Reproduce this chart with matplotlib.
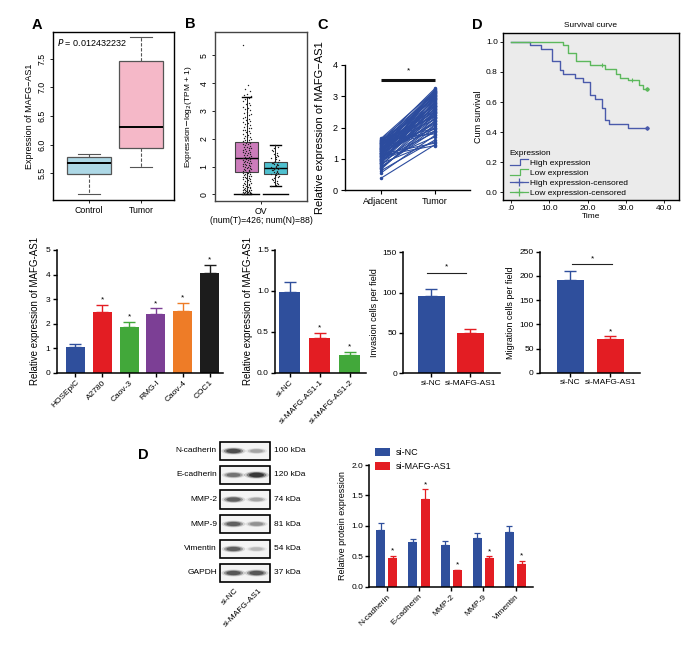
import matplotlib
matplotlib.use('Agg')
import matplotlib.pyplot as plt
from matplotlib.patches import Rectangle, Ellipse
from matplotlib.lines import Line2D
from matplotlib.legend_handler import HandlerBase

plt.rcParams['font.family'] = ['Liberation Sans', 'DejaVu Sans']
plt.rcParams['axes.linewidth'] = 1.0

# ---------------- data ----------------
# Panel A (boxplot stats)
a_labels = ['Control', 'Tumor']
a_q1 = [5.48, 5.94]
a_med = [5.67, 6.31]
a_q3 = [5.78, 7.46]
a_lo = [5.13, 5.60]
a_hi = [5.83, 7.88]
a_pval = 'P = 0.012432232'

# Panel B (GEPIA box + points)
b_q1 = [0.81, 0.74]
b_med = [1.29, 0.96]
b_q3 = [1.88, 1.17]
b_lo = [0.0, 0.30]
b_hi = [3.51, 1.76]
b_tumor_pts = [0.00, 0.01, 0.02, 0.03, 0.04, 0.05, 0.06, 0.07, 0.08, 0.09, 0.10, 0.11, 0.12, 0.14,
               0.15, 0.16, 0.17, 0.19, 0.20, 0.22, 0.23, 0.25, 0.26, 0.28, 0.30, 0.32, 0.34, 0.36,
               0.38, 0.40, 0.42, 0.44, 0.47, 0.49, 0.52, 0.54, 0.56, 0.58, 0.60, 0.62, 0.63, 0.65,
               0.67, 0.69, 0.71, 0.73, 0.74, 0.76, 0.78, 0.80, 0.81, 0.83, 0.84, 0.86, 0.88, 0.90,
               0.92, 0.94, 0.95, 0.97, 0.99, 1.01, 1.03, 1.05, 1.06, 1.08, 1.10, 1.12, 1.13, 1.15,
               1.17, 1.19, 1.21, 1.23, 1.25, 1.27, 1.28, 1.30, 1.32, 1.34, 1.36, 1.38, 1.41, 1.43,
               1.45, 1.47, 1.49, 1.51, 1.53, 1.56, 1.58, 1.60, 1.62, 1.65, 1.67, 1.70, 1.72, 1.75,
               1.77, 1.80, 1.82, 1.84, 1.86, 1.89, 1.91, 1.94, 1.97, 2.00, 2.03, 2.06, 2.08, 2.11,
               2.14, 2.17, 2.20, 2.24, 2.27, 2.30, 2.33, 2.37, 2.40, 2.44, 2.47, 2.50, 2.53, 2.57,
               2.61, 2.65, 2.69, 2.72, 2.76, 2.80, 2.84, 2.88, 2.93, 2.97, 3.02, 3.06, 3.10, 3.15,
               3.20, 3.25, 3.30, 3.36, 3.42, 3.47, 3.52, 3.58, 3.62, 3.70, 3.78, 3.92, 5.37]
b_normal_pts = [0.30, 0.34, 0.38, 0.42, 0.45, 0.49, 0.52, 0.55, 0.58, 0.61, 0.64, 0.67, 0.70, 0.72,
                0.75, 0.78, 0.80, 0.82, 0.84, 0.86, 0.88, 0.90, 0.92, 0.94, 0.96, 0.98, 1.00, 1.02,
                1.04, 1.06, 1.08, 1.10, 1.12, 1.14, 1.16, 1.18, 1.20, 1.23, 1.26, 1.30, 1.33, 1.37,
                1.40, 1.45, 1.50, 1.55, 1.60, 1.65, 1.70, 1.76]
b_tick = 'OV\n(num(T)=426; num(N)=88)'

# Panel C (paired samples)
c_adjacent = [0.38, 0.55, 0.62, 0.70, 0.75, 0.80, 0.85, 0.88, 0.92, 0.95, 0.98, 1.00, 1.02, 1.05,
              1.08, 1.10, 1.12, 1.15, 1.18, 1.20, 1.22, 1.25, 1.28, 1.30, 1.32, 1.35, 1.38, 1.40,
              1.42, 1.45, 1.48, 1.50, 1.52, 1.55, 1.58, 1.60, 1.62, 1.65, 0.72, 0.90, 1.15, 1.27,
              1.36, 1.44, 1.05, 0.83, 1.58, 1.20, 0.66, 0.78, 0.94, 1.00, 1.09, 1.17, 1.24, 1.31,
              1.39, 1.47, 1.53, 1.61, 0.87, 1.13, 1.34, 1.50, 0.97, 1.26]
c_tumor = [1.45, 1.75, 1.60, 2.10, 1.90, 2.30, 1.55, 2.50, 2.05, 2.70, 1.85, 2.40, 2.95, 2.20,
           2.60, 1.42, 2.80, 2.35, 3.05, 2.15, 2.55, 2.90, 2.45, 3.15, 2.65, 1.95, 3.00, 2.75,
           3.20, 2.25, 2.85, 3.10, 2.50, 3.25, 2.95, 2.70, 3.05, 3.18, 2.00, 2.62, 1.50, 2.78,
           3.12, 2.40, 2.30, 2.88, 1.80, 3.22, 2.22, 2.45, 1.70, 2.82, 3.08, 2.12, 2.68, 1.88,
           3.02, 2.58, 2.92, 2.35, 2.98, 3.14, 2.72, 1.98, 2.52, 3.16]
c_groups = ['Adjacent', 'Tumor']

# Panel D (Kaplan-Meier)
high_t = [0, 4.9, 7.8, 10.8, 12.7, 13.7, 16.7, 18.7, 20.7, 22.0, 23.7, 24.6, 25.5, 30.6, 35.4]
high_s = [1.0, 0.978, 0.949, 0.869, 0.812, 0.785, 0.757, 0.730, 0.646, 0.617, 0.562, 0.478, 0.451, 0.425, 0.425]
low_t = [0, 13.7, 14.8, 16.9, 20.7, 24.6, 27.4, 28.5, 30.5, 33.3, 34.5, 35.4]
low_s = [1.0, 0.978, 0.927, 0.869, 0.847, 0.819, 0.788, 0.761, 0.745, 0.712, 0.684, 0.684]
high_cens_t = [35.4]
high_cens_s = [0.425]
low_cens_t = [23.7, 31.5, 35.4]
low_cens_s = [0.847, 0.745, 0.684]

# Cell lines
cell_lines = ['HOSEpiC', 'A2780', 'Caov-3', 'RMG-I', 'Caov-4', 'COC1']
cell_vals = [1.05, 2.49, 1.85, 2.38, 2.53, 4.06]
cell_errs = [0.10, 0.28, 0.23, 0.24, 0.30, 0.34]

# siRNA knockdown
si_groups = ['si-NC', 'si-MAFG-AS1-1', 'si-MAFG-AS1-2']
si_vals = [0.99, 0.43, 0.22]
si_errs = [0.12, 0.06, 0.03]

# Invasion / migration
two_groups = ['si-NC', 'si-MAFG-AS1']
inv_vals = [95.9, 50.4]
inv_errs = [8.1, 4.1]
mig_vals = [190.8, 69.6]
mig_errs = [19.9, 6.2]

# Western blot
blot_proteins = ['N-cadherin', 'E-cadherin', 'MMP-2', 'MMP-9', 'Vimentin', 'GAPDH']
blot_kda = ['100 kDa', '120 kDa', '74 kDa', '81 kDa', '54 kDa', '37 kDa']
blot_nc = [0.90, 0.70, 0.80, 0.80, 0.80, 0.85]
blot_si = [0.45, 1.00, 0.45, 0.55, 0.35, 0.85]

# Protein quantification
prot_names = ['N-cadherin', 'E-cadherin', 'MMP-2', 'MMP-9', 'Vimentin']
prot_nc = [0.94, 0.73, 0.68, 0.80, 0.90]
prot_nc_err = [0.10, 0.06, 0.07, 0.09, 0.09]
prot_si = [0.47, 1.44, 0.27, 0.47, 0.38]
prot_si_err = [0.04, 0.16, 0.01, 0.03, 0.04]

# ---------------- layout ----------------
W, H = 699, 645
fig = plt.figure(figsize=(W / 100, H / 100), dpi=100)

def ax_px(l, t, r, b):
    return fig.add_axes([l / W, 1 - b / H, (r - l) / W, (b - t) / H])

bg = fig.add_axes([0, 0, 1, 1], zorder=-5)
bg.set_xlim(0, W)
bg.set_ylim(H, 0)
bg.axis('off')

for lab, x, y in [('A', 37, 25), ('B', 190, 24), ('C', 323, 25), ('D', 477, 25), ('D', 143, 455)]:
    bg.text(x, y, lab, fontsize=10.5, fontweight='bold', ha='center', va='center')

BLUE = '#2f4f9c'
RED = '#e31d23'
TS = 6

# ---- Panel A ----
axA = ax_px(53, 32, 174, 200)
statsA = [dict(med=a_med[i], q1=a_q1[i], q3=a_q3[i], whislo=a_lo[i], whishi=a_hi[i], label=a_labels[i])
          for i in range(2)]
bpA = axA.bxp(statsA, positions=[1, 2], widths=0.85, patch_artist=True, showfliers=False,
              boxprops=dict(edgecolor='#555555', lw=0.9),
              medianprops=dict(color='black', lw=1.4),
              whiskerprops=dict(color='#555555', lw=0.8, linestyle=(0, (3, 1.5))),
              capprops=dict(color='#555555', lw=0.8))
for patch, col in zip(bpA['boxes'], ['#add8e6', '#f5b8c8']):
    patch.set_facecolor(col)
axA.set_xlim(0.31, 2.63)
axA.set_ylim(5.03, 7.97)
axA.set_yticks([5.5, 6.0, 6.5, 7.0, 7.5])
axA.set_yticklabels(['5.5', '6.0', '6.5', '7.0', '7.5'], rotation=90, va='center')
axA.tick_params(labelsize=6.3, length=2.5, width=0.6, pad=2)
axA.set_ylabel('Expression of MAFG\u2212AS1', fontsize=6.5, labelpad=3)
axA.text(0.035, 0.94, r'$P$' + a_pval[1:], transform=axA.transAxes, fontsize=6.5, va='center')

# ---- Panel B ----
axB = ax_px(215, 32, 307, 201)
posB = [0.346, 0.654]
statsB = [dict(med=b_med[i], q1=b_q1[i], q3=b_q3[i], whislo=b_lo[i], whishi=b_hi[i]) for i in range(2)]
bpB = axB.bxp(statsB, positions=posB, widths=0.25, patch_artist=True, showfliers=False,
              boxprops=dict(edgecolor='#444444', lw=0.8),
              medianprops=dict(color='black', lw=1.0),
              whiskerprops=dict(color='#222222', lw=0.7),
              capprops=dict(color='black', lw=1.0), capwidths=[0.1, 0.12], zorder=2)
for patch, col in zip(bpB['boxes'], ['#cc7cbb', '#4fc0cf']):
    patch.set_facecolor(col)
for p in posB:
    axB.plot([p - 0.135, p + 0.135], [0, 0], color='black', lw=1.0, zorder=3)
jit = [-0.045, -0.015, 0.02, 0.045, -0.03, 0.005, 0.03, -0.02, 0.012, -0.04, 0.038, -0.008, 0.025]
axB.scatter([posB[0] + jit[i % len(jit)] for i in range(len(b_tumor_pts))], b_tumor_pts,
            s=1.0, color='#222222', zorder=4, linewidths=0)
axB.scatter([posB[1] + jit[(i * 5) % len(jit)] * 0.9 for i in range(len(b_normal_pts))], b_normal_pts,
            s=1.0, color='#222222', zorder=4, linewidths=0)
axB.set_xlim(0, 1)
axB.set_ylim(-0.24, 5.84)
axB.set_yticks(range(6))
axB.set_yticklabels([str(i) for i in range(6)], rotation=90, va='center')
axB.set_xticks([0.5])
axB.set_xticklabels([b_tick], fontsize=6, linespacing=0.95)
axB.tick_params(labelsize=6.3, length=2.5, width=0.6, pad=2)
axB.set_ylabel(r'Expression$-$log$_2$(TPM + 1)', fontsize=6, labelpad=4)
for s in axB.spines.values():
    s.set_color('#444444')

# ---- Panel C ----
axC = ax_px(345, 65, 470, 190)
for a, t in zip(c_adjacent, c_tumor):
    axC.plot([0, 1], [a, t], color='#2c4c9e', lw=0.8, marker='o', ms=1.5, zorder=2)
axC.plot([0, 1], [3.52, 3.52], color='#111111', lw=2.2, solid_capstyle='butt')
axC.text(0.5, 3.8, '*', ha='center', va='center', fontsize=6)
axC.set_xlim(-0.67, 1.65)
axC.set_ylim(0, 4)
axC.set_xticks([0, 1])
axC.set_xticklabels(c_groups)
axC.set_yticks(range(5))
axC.spines['top'].set_visible(False)
axC.spines['right'].set_visible(False)
axC.tick_params(labelsize=6.5, length=3, width=0.8, pad=2)
axC.set_ylabel('Relative expression of MAFG\u2212AS1', fontsize=8, labelpad=6)

# ---- Panel D (survival) ----
axD = ax_px(502.7, 32.7, 679, 200)
axD.set_facecolor('#ebebeb')
HC = '#4a5aab'
LC = '#5cb85c'
axD.step(high_t, high_s, where='post', color=HC, lw=1.0)
axD.step(low_t, low_s, where='post', color=LC, lw=1.0)
axD.plot(high_cens_t, high_cens_s, '+', color=HC, ms=3.5, mew=0.8)
axD.plot(low_cens_t, low_cens_s, '+', color=LC, ms=3.5, mew=0.8)
axD.plot(high_cens_t[-1:], high_cens_s[-1:], 'o', color=HC, ms=2)
axD.plot(low_cens_t[-1:], low_cens_s[-1:], 'o', color=LC, ms=2)
axD.set_xlim(-2.1, 43.8)
axD.set_ylim(-0.05, 1.06)
axD.set_xticks([0, 10, 20, 30, 40])
axD.set_xticklabels(['.0', '10.0', '20.0', '30.0', '40.0'])
axD.set_yticks([0, 0.2, 0.4, 0.6, 0.8, 1.0])
axD.set_yticklabels(['0.0', '0.2', '0.4', '0.6', '0.8', '1.0'])
axD.tick_params(labelsize=6, length=2, width=0.6, pad=1.5)
axD.set_xlabel('Time', fontsize=6, labelpad=1)
axD.set_ylabel('Cum survival', fontsize=6.5, labelpad=2)
axD.set_title('Survival curve', fontsize=6, pad=4)


class StepHandler(HandlerBase):
    def create_artists(self, legend, orig_handle, xd, yd, width, height, fontsize, trans):
        y0 = -yd + height * 0.05
        y1 = -yd + height * 0.95
        x0 = -xd
        xm = x0 + width * 0.55
        l = Line2D([x0, xm, xm, x0 + width], [y0, y0, y1, y1], color=orig_handle.get_color(),
                   lw=orig_handle.get_linewidth(), transform=trans)
        return [l]


h1 = Line2D([], [], color=HC, lw=0.9)
h2 = Line2D([], [], color=LC, lw=0.9)
h3 = Line2D([], [], color=HC, lw=0.9, marker='+', ms=6, mew=0.9)
h4 = Line2D([], [], color=LC, lw=0.9, marker='+', ms=6, mew=0.9)
legD = axD.legend([h1, h2, h3, h4], ['High expression', 'Low expression', 'High expression-censored',
                                       'Low expression-censored'],
                  handler_map={h1: StepHandler(), h2: StepHandler()}, title='Expression',
                  fontsize=6, title_fontsize=6, loc='lower left', bbox_to_anchor=(0.02, 0.0),
                  frameon=False, handlelength=2.2, handletextpad=0.2, labelspacing=0.25,
                  borderpad=0.2, borderaxespad=0.2)
legD._legend_box.align = 'left'


# ---- bar chart helper ----
def prism(ax, xs, vals, errs, colors, width, ylim, yticks, yticklabels=None, stars=None, star_off=0.0):
    ax.bar(xs, vals, width=width, color=colors, edgecolor='none', zorder=2)
    for x, v, e, c in zip(xs, vals, errs, colors):
        ax.errorbar([x], [v], yerr=[[0], [e]], fmt='none', ecolor=c, elinewidth=1.0,
                    capsize=4, capthick=1.0, zorder=3)
    if stars:
        for x, v, e, s in zip(xs, vals, errs, stars):
            if s:
                ax.text(x, v + e + star_off, '*', ha='center', va='center', fontsize=6)
    ax.set_ylim(*ylim)
    ax.set_yticks(yticks)
    if yticklabels:
        ax.set_yticklabels(yticklabels)
    ax.spines['top'].set_visible(False)
    ax.spines['right'].set_visible(False)
    ax.spines['left'].set_linewidth(1.1)
    ax.spines['bottom'].set_linewidth(1.1)
    ax.tick_params(labelsize=TS, length=3, width=1.0, pad=1.5)


# ---- Cell lines ----
axE = ax_px(56.7, 250, 223, 372.7)
cell_cols = ['#2f4f9c', '#e31d23', '#42a83a', '#7c3f95', '#ee7c27', '#1c1c1c']
xsE = list(range(len(cell_lines)))
prism(axE, xsE, cell_vals, cell_errs, cell_cols, 0.71, (0, 5), range(6),
      stars=[0, 1, 1, 1, 1, 1], star_off=0.2)
axE.set_xlim(-0.70, 5.5)
axE.set_xticks(xsE)
axE.set_xticklabels(cell_lines, rotation=45, ha='right', rotation_mode='anchor')
axE.set_ylabel('Relative expression of MAFG-AS1', fontsize=7, labelpad=4)

# ---- siRNA ----
axF = ax_px(275, 250, 365.7, 372.7)
xsF = [0, 1, 2]
prism(axF, xsF, si_vals, si_errs, [BLUE, RED, '#42a83a'], 0.69, (0, 1.5), [0, 0.5, 1.0, 1.5],
      ['0.0', '0.5', '1.0', '1.5'], stars=[0, 1, 1], star_off=0.06)
axF.set_xlim(-0.49, 2.53)
axF.set_xticks(xsF)
axF.set_xticklabels(si_groups, rotation=45, ha='right', rotation_mode='anchor')
axF.set_ylabel('Relative expression of MAFG-AS1', fontsize=7, labelpad=3)

# ---- Invasion ----
axG = ax_px(403.3, 252.3, 500, 373.3)
prism(axG, [0, 1], inv_vals, inv_errs, [BLUE, RED], 0.71, (0, 150), [0, 50, 100, 150])
axG.plot([-0.12, 0.9], [124, 124], color='#222222', lw=0.8)
axG.text(0.39, 132, '*', ha='center', va='center', fontsize=6)
axG.set_xlim(-0.72, 1.76)
axG.set_xticks([0, 1])
axG.set_xticklabels(two_groups)
axG.set_ylabel('Invasion cells per field', fontsize=6.5, labelpad=3)

# ---- Migration ----
axH = ax_px(540, 251.7, 640, 372.7)
prism(axH, [0, 1], mig_vals, mig_errs, [BLUE, RED], 0.69, (0, 250), [0, 50, 100, 150, 200, 250],
      stars=[0, 1], star_off=9)
axH.plot([0.03, 1.05], [223.8, 223.8], color='#222222', lw=0.8)
axH.text(0.55, 235, '*', ha='center', va='center', fontsize=6)
axH.set_xlim(-0.76, 1.74)
axH.set_xticks([0, 1])
axH.set_xticklabels(two_groups)
axH.set_ylabel('Migration cells per field', fontsize=6.5, labelpad=3)

# ---- Western blot ----
row_y = [451, 475, 499.5, 524, 549, 573]
for i, prot in enumerate(blot_proteins):
    y = row_y[i]
    bg.add_patch(Rectangle((219.5, y - 9.3), 50, 18.6, fill=True, facecolor='#f4f4f4',
                           edgecolor='black', lw=1.2))
    for cx, inten in [(233.5, blot_nc[i]), (256.5, blot_si[i])]:
        w = 15 + 5 * inten
        h = 3.5 + 2.5 * inten
        for k, (sc, al) in enumerate([(1.25, 0.18), (1.0, 0.45), (0.75, 0.8)]):
            g = 1 - inten * 0.85
            bg.add_patch(Ellipse((cx, y), w * sc, h * sc, facecolor=(g, g, g), alpha=al,
                                 edgecolor='none'))
    bg.text(217, y, prot, ha='right', va='center', fontsize=6)
    bg.text(273.5, y, blot_kda[i], ha='left', va='center', fontsize=6)
bg.text(235, 587, 'si-NC', rotation=45, ha='right', va='top', rotation_mode='anchor', fontsize=6)
bg.text(259, 587, 'si-MAFG-AS1', rotation=45, ha='right', va='top', rotation_mode='anchor', fontsize=6)

# ---- Protein quantification ----
axI = ax_px(369.3, 465, 533.3, 586.7)
xsI = list(range(len(prot_names)))
bw = 0.28
off = 0.19
axI.bar([x - off for x in xsI], prot_nc, width=bw, color=BLUE, zorder=2, label='si-NC')
axI.bar([x + off for x in xsI], prot_si, width=bw, color=RED, zorder=2, label='si-MAFG-AS1')
for x, v, e in zip(xsI, prot_nc, prot_nc_err):
    axI.errorbar([x - off], [v], yerr=[[0], [e]], fmt='none', ecolor=BLUE, elinewidth=0.9,
                 capsize=2.5, capthick=0.9, zorder=3)
for x, v, e in zip(xsI, prot_si, prot_si_err):
    axI.errorbar([x + off], [v], yerr=[[0], [e]], fmt='none', ecolor=RED, elinewidth=0.9,
                 capsize=2.5, capthick=0.9, zorder=3)
    axI.text(x + off, v + e + 0.08, '*', ha='center', va='center', fontsize=6)
axI.set_xlim(-0.54, 4.55)
axI.set_ylim(0, 2)
axI.set_yticks([0, 0.5, 1.0, 1.5, 2.0])
axI.set_yticklabels(['0.0', '0.5', '1.0', '1.5', '2.0'])
axI.set_xticks(xsI)
axI.set_xticklabels(prot_names, rotation=45, ha='right', rotation_mode='anchor')
axI.spines['top'].set_visible(False)
axI.spines['right'].set_visible(False)
axI.spines['left'].set_linewidth(1.1)
axI.spines['bottom'].set_linewidth(1.1)
axI.tick_params(labelsize=TS, length=3, width=1.0, pad=1.5)
axI.set_ylabel('Relative protein expression', fontsize=6.5, labelpad=3)
axI.legend(loc='upper left', bbox_to_anchor=(375 / W, 1 - 448 / H), bbox_transform=fig.transFigure,
           frameon=False, fontsize=6.5, handlelength=1.7, handleheight=0.9, handletextpad=0.6,
           labelspacing=0.55, borderpad=0, borderaxespad=0)

fig.savefig('out.png', dpi=100)
